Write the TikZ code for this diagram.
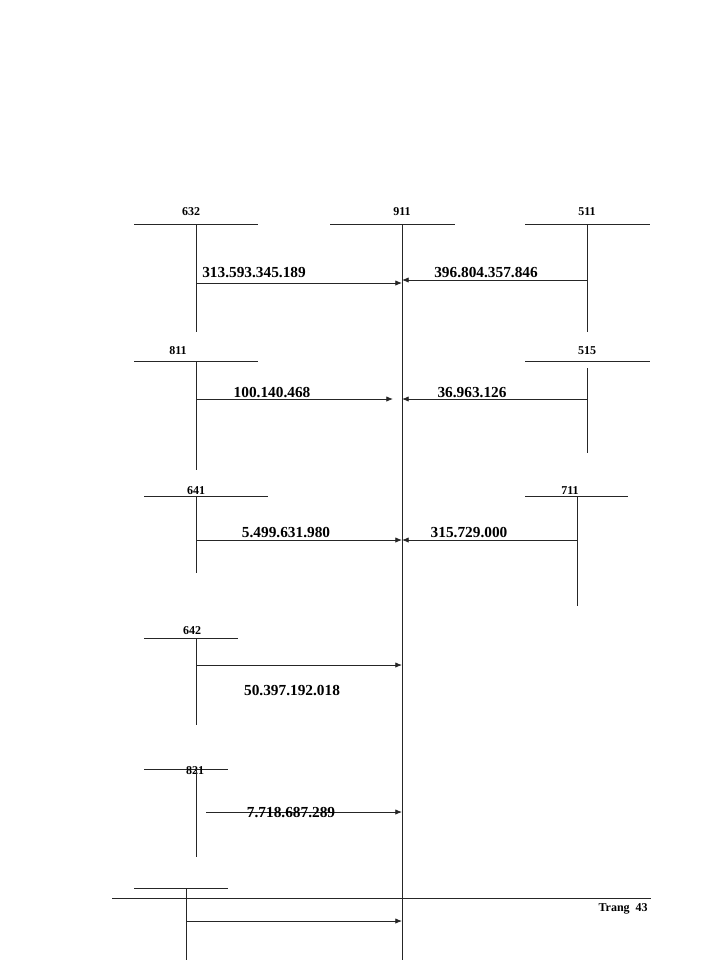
\documentclass[tikz,border=0pt]{standalone}
\usepackage{fontspec}
\setmainfont{Liberation Serif}
\usetikzlibrary{arrows.meta}
\begin{document}
\begin{tikzpicture}[x=0.75pt,y=-0.75pt,
  acc/.style={font=\bfseries\fontsize{9}{10}\selectfont,inner sep=0pt},
  amt/.style={font=\bfseries\fontsize{11.5}{13}\selectfont,inner sep=0pt},
  ln/.style={line width=0.6pt,draw=black!85},
  arr/.style={ln,-{Latex[length=5pt,width=4pt]}}]
\useasboundingbox (0,0) rectangle (700,960);
% accounts: horizontal and vertical
\node[acc] (a632) at (191,212) {632};
\draw[ln] (134,224) -- (258,224); \coordinate (v632t) at (196,224); \coordinate (v632b) at (196,332); \draw[ln] (v632t)--(v632b);
\node[acc] (a911) at (402,212) {911};
\draw[ln] (330,224) -- (455,224); \coordinate (v911t) at (402,224); \coordinate (v911b) at (402,960); \draw[ln] (v911t)--(v911b);
\node[acc] (a511) at (587,212) {511};
\draw[ln] (525,224) -- (650,224); \draw[ln] (587,224)--(587,332);
\coordinate (s1) at (196,283); \coordinate (e1) at (402,283); \draw[arr] (s1)--(e1);
\node[amt] (n1) at (254,273) {313.593.345.189};
\coordinate (s2) at (587,280); \coordinate (e2) at (402,280); \draw[arr] (s2)--(e2);
\node[amt] (n2) at (486,273) {396.804.357.846};
% 811 / 515
\node[acc] (a811) at (178,351) {811};
\draw[ln] (134,361) -- (258,361); \draw[ln] (196,361)--(196,470);
\node[acc] (a515) at (587,351) {515};
\draw[ln] (525,361) -- (650,361); \draw[ln] (587,368)--(587,453);
\coordinate (s3) at (196,399); \coordinate (e3) at (393,399); \draw[arr] (s3)--(e3);
\node[amt] (n3) at (272,393) {100.140.468};
\coordinate (s4) at (587,399); \coordinate (e4) at (402,399); \draw[arr] (s4)--(e4);
\node[amt] (n4) at (472,393) {36.963.126};
% 641 / 711
\node[acc] (a641) at (196,491) {641};
\draw[ln] (144,496) -- (268,496); \draw[ln] (196,496)--(196,573);
\node[acc] (a711) at (570,491) {711};
\draw[ln] (525,496) -- (628,496); \draw[ln] (577,496)--(577,606);
\coordinate (s5) at (196,540); \coordinate (e5) at (402,540); \draw[arr] (s5)--(e5);
\node[amt] (n5) at (286,533) {5.499.631.980};
\coordinate (s6) at (577,540); \coordinate (e6) at (402,540); \draw[arr] (s6)--(e6);
\node[amt] (n6) at (469,533) {315.729.000};
% 642
\node[acc] (a642) at (192,631) {642};
\draw[ln] (144,638) -- (238,638); \draw[ln] (196,638)--(196,725);
\coordinate (s7) at (196,665); \coordinate (e7) at (402,665); \draw[arr] (s7)--(e7);
\node[amt] (n7) at (292,691) {50.397.192.018};
% 821
\draw[ln] (144,769) -- (228,769);
\node[acc] (a821) at (195,771) {821};
\draw[ln] (196,769)--(196,857);
\coordinate (s8) at (206,812); \coordinate (e8) at (402,812); \draw[arr] (s8)--(e8);
\node[amt] (n8) at (291,812) {7.718.687.289};
% bottom
\draw[ln] (134,888) -- (228,888); \draw[ln] (186,888)--(186,960);
\coordinate (s9) at (186,921); \coordinate (e9) at (402,921); \draw[arr] (s9)--(e9);
% footer
\draw[ln] (112,898) -- (651,898);
\node[acc,anchor=east] (pg) at (648,909) {Trang\ \ 43};
\end{tikzpicture}
\end{document}
